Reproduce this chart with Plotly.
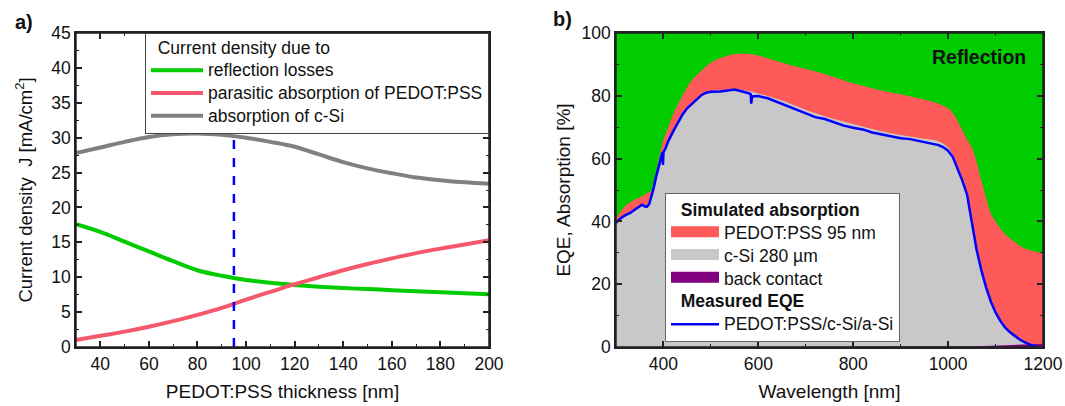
import plotly.graph_objects as go

# ---------------- Panel a) data ----------------
thickness_nm = [30, 40, 50, 60, 70, 80, 90, 100, 110, 120, 130, 140, 150, 160, 170, 180, 190, 200]
j_reflection = [17.6, 16.5, 15.1, 13.7, 12.3, 11.0, 10.2, 9.6, 9.2, 8.9, 8.65, 8.45, 8.3, 8.15, 8.0, 7.85, 7.7, 7.55]
j_parasitic = [1.0, 1.6, 2.2, 2.9, 3.7, 4.6, 5.6, 6.8, 7.9, 9.0, 10.0, 11.0, 11.9, 12.7, 13.45, 14.1, 14.7, 15.3]
j_csi = [27.8, 28.6, 29.4, 30.1, 30.5, 30.6, 30.4, 30.0, 29.4, 28.7, 27.6, 26.5, 25.6, 24.9, 24.3, 23.9, 23.6, 23.4]
selected_thickness = 95

# ---------------- Panel b) data ----------------
wl_sim = [300, 320, 340, 355, 365, 375, 385, 395, 400, 410, 420, 440, 460, 480, 500, 520, 540, 560,
          580, 600, 650, 700, 750, 800, 850, 900, 950, 980, 1000, 1010, 1020, 1030, 1040, 1050,
          1060, 1070, 1080, 1090, 1100, 1120, 1140, 1160, 1180, 1200]
# upper edge of red area: total absorption (c-Si + PEDOT:PSS + back contact) [%]
abs_total = [41, 45, 47, 48, 49, 50, 56, 63, 66, 70, 74, 80, 85, 88, 90.5, 92, 93, 93.5,
             93.3, 92.8, 90.5, 88.5, 86.5, 84, 82, 80.5, 78.8, 77.5, 76, 74.5, 72, 69, 66, 63.5,
             59, 53, 47.5, 42.5, 40, 36, 33.5, 31.5, 30.5, 30]
# absorption in c-Si [%]
abs_csi = [39.5, 42, 44, 45.5, 45, 47.5, 54, 60, 62.5, 66, 69, 74, 77.5, 80, 81.3, 81.8, 82, 82,
           81.5, 80.7, 78.5, 75.5, 73, 71, 69, 67.5, 66.3, 65.5, 63.5, 61, 57, 53, 48.5, 41,
           32, 25, 19.5, 14.5, 11, 6, 3, 1.3, 0.3, 0]
# absorption in back contact [%]
abs_back = [0, 0, 0, 0, 0, 0, 0, 0, 0, 0, 0, 0, 0, 0, 0, 0, 0, 0,
            0, 0, 0, 0, 0, 0, 0, 0, 0, 0, 0, 0.05, 0.1, 0.12, 0.15, 0.2,
            0.25, 0.3, 0.35, 0.38, 0.4, 0.5, 0.6, 0.7, 0.85, 1.0]

wl_eqe = [300, 310, 320, 330, 340, 350, 355, 360, 365, 370, 375, 380, 385, 390, 395, 398, 399, 400,
          405, 410, 420, 430, 440, 450, 460, 470, 480, 490, 500, 520, 540, 550, 560, 570, 580, 584,
          585, 587, 600, 620, 640, 660, 680, 700, 720, 740, 760, 780, 800, 820, 840, 860, 880, 900,
          920, 940, 960, 970, 980, 990, 1000, 1010, 1020, 1030, 1040, 1050, 1060, 1070, 1080, 1090,
          1100, 1110, 1120, 1130, 1140, 1150, 1160, 1170, 1180, 1190]
eqe = [39.5, 41, 42, 42.7, 43.8, 45, 45.3, 44.8, 44.6, 45.5, 48, 51, 54.5, 57.5, 60.5, 62, 58, 62,
       63.5, 65.5, 68.5, 71.5, 74, 76, 77.5, 79, 80.2, 81, 81.3, 81.4, 81.8, 82, 81.6, 81.3, 80.8, 80.5,
       77.5, 79.8, 79.9, 79.2, 78, 76.8, 75.5, 74.3, 73.2, 72.6, 71.6, 70.5, 69.8, 69.3, 68.3, 67.7, 67.0, 66.5,
       66.2, 65.6, 65.1, 64.8, 64.3, 63.6, 62.5, 60.5, 57, 53, 48.5, 40, 31, 24.5, 19, 14.5,
       11, 8.3, 6.2, 4.8, 3.5, 2.5, 1.6, 0.9, 0.3, 0]

FONT = "Liberation Sans, Arial, sans-serif"
AX = "#222222"
TXT = "#111111"
GREEN = "#00CC00"
RED = "#FF5A5A"
GRAY = "#C8C8C8"
PURPLE = "#800080"
NB = "\u00a0"

W, H = 1065, 406
ML, MR, MT, MB = 76, 22, 33, 59
PW, PH = W - ML - MR, H - MT - MB


def px_x(p):
    return (p - ML) / PW


def px_y(p):
    return (H - MB - p) / PH


def big(t, size=17.5):
    return f"<span style='font-size:{size}px'>{t}</span>"


fig = go.Figure()

# ---- panel a traces ----
fig.add_trace(go.Scatter(x=thickness_nm, y=j_reflection, mode="lines", name=big("reflection losses"),
                         line=dict(color=GREEN, width=4, shape="spline"), legend="legend", xaxis="x", yaxis="y"))
fig.add_trace(go.Scatter(x=thickness_nm, y=j_parasitic, mode="lines", name=big("parasitic absorption of PEDOT:PSS"),
                         line=dict(color="#F5576C", width=4, shape="spline"), legend="legend", xaxis="x", yaxis="y"))
fig.add_trace(go.Scatter(x=thickness_nm, y=j_csi, mode="lines", name=big("absorption of c-Si"),
                         line=dict(color="#808080", width=4, shape="spline"), legend="legend", xaxis="x", yaxis="y"))
fig.add_trace(go.Scatter(x=[selected_thickness, selected_thickness], y=[0, 45], mode="lines", showlegend=False,
                         line=dict(color="#0000FF", width=2.5, dash="dash"), xaxis="x", yaxis="y"))

# ---- panel b traces (areas) ----
fig.add_trace(go.Scatter(x=wl_sim, y=abs_total, mode="lines", fill="tozeroy", showlegend=False,
                         line=dict(color=RED, width=0, shape="spline"), fillcolor=RED,
                         xaxis="x2", yaxis="y2"))
fig.add_trace(go.Scatter(x=wl_sim, y=abs_csi, mode="lines", fill="tozeroy", showlegend=False,
                         line=dict(color=GRAY, width=0, shape="spline"), fillcolor=GRAY,
                         xaxis="x2", yaxis="y2"))
fig.add_trace(go.Scatter(x=wl_sim, y=abs_back, mode="lines", fill="tozeroy", showlegend=False,
                         line=dict(color=PURPLE, width=0), fillcolor=PURPLE,
                         xaxis="x2", yaxis="y2"))

# legend swatches for the areas (legend entries only)
for i, (nm, col) in enumerate((("PEDOT:PSS 95 nm", RED), ("c-Si 280 µm", GRAY), ("back contact", PURPLE))):
    kw = dict(legendgrouptitle=dict(text=big(NB * 2 + "<b>Simulated absorption</b>"))) if i == 0 else {}
    fig.add_trace(go.Scatter(x=[None], y=[None], mode="lines", fill="tozeroy", name=big(nm),
                             line=dict(color=col, width=12), fillcolor=col,
                             legend="legend2", legendgroup="sim", xaxis="x2", yaxis="y2", **kw))

fig.add_trace(go.Scatter(x=wl_eqe, y=eqe, mode="lines", name=big("PEDOT:PSS/c-Si/a-Si"),
                         line=dict(color="#0000FF", width=2.5),
                         legend="legend2", legendgroup="meas",
                         legendgrouptitle=dict(text=big(NB * 2 + "<b>Measured EQE</b>")),
                         xaxis="x2", yaxis="y2"))

X1 = [0, px_x(489)]
X2 = [px_x(616), 1]
YD = [0, 1]


def axis(**kw):
    d = dict(showline=True, linecolor=AX, linewidth=1.5, mirror="allticks", ticks="inside",
             ticklen=6, tickwidth=1.5, tickcolor=AX, showgrid=False, zeroline=False,
             automargin=False, layer="above traces",
             tickfont=dict(family=FONT, size=17.5, color=TXT))
    d.update(kw)
    return d


LEGFS = 15.2
fig.update_layout(
    width=W, height=H,
    margin=dict(l=ML, r=MR, t=MT, b=MB, autoexpand=False),
    paper_bgcolor="white", plot_bgcolor="white",
    font=dict(family=FONT, size=17.5, color=TXT),
    xaxis=axis(domain=X1, range=[30, 200], dtick=20, tick0=0, anchor="y",
               title=dict(text="PEDOT:PSS thickness [nm]", standoff=12, font=dict(family=FONT, size=19, color=TXT)),
               minor=dict(ticks="inside", dtick=10, ticklen=3, tickcolor=AX, tickwidth=1.2)),
    yaxis=axis(domain=YD, range=[0, 45], dtick=5, anchor="x",
               title=dict(text="Current density" + NB + " J [mA/cm<sup>2</sup>]", standoff=14,
                          font=dict(family=FONT, size=18.5, color=TXT)),
               minor=dict(ticks="inside", dtick=2.5, ticklen=3, tickcolor=AX, tickwidth=1.2)),
    xaxis2=axis(domain=X2, range=[300, 1200], dtick=200, tick0=0, anchor="y2",
                title=dict(text="Wavelength [nm]", standoff=12, font=dict(family=FONT, size=19, color=TXT)),
                minor=dict(ticks="inside", dtick=100, ticklen=3, tickcolor=AX, tickwidth=1.2)),
    yaxis2=axis(domain=YD, range=[0, 100], dtick=20, anchor="x2",
                title=dict(text="EQE, Absorption [%]", standoff=6, font=dict(family=FONT, size=19, color=TXT)),
                minor=dict(ticks="inside", dtick=10, ticklen=3, tickcolor=AX, tickwidth=1.2)),
    legend=dict(x=X1[1], xanchor="right", y=1, yanchor="top",
                bgcolor="white", bordercolor="#444444", borderwidth=1,
                title=dict(text=big(NB * 2 + "Current density due to"), font=dict(family=FONT, size=LEGFS, color=TXT)),
                font=dict(family=FONT, size=LEGFS, color=TXT), itemwidth=52, tracegroupgap=0),
    legend2=dict(x=px_x(665), xanchor="left", y=px_y(193), yanchor="top",
                 bgcolor="white", bordercolor="#666666", borderwidth=1,
                 font=dict(family=FONT, size=LEGFS, color=TXT), itemwidth=48, tracegroupgap=0,
                 traceorder="grouped",
                 grouptitlefont=dict(family=FONT, size=LEGFS, color=TXT)),
    showlegend=True,
)

fig.add_shape(type="rect", xref="x2 domain", yref="y2 domain", x0=0, x1=1, y0=0, y1=1,
              fillcolor=GREEN, line_width=0, layer="below")
# plot frames
for xr, yr in (("x domain", "y domain"), ("x2 domain", "y2 domain")):
    fig.add_shape(type="rect", xref=xr, yref=yr, x0=0, x1=1, y0=0, y1=1,
                  line=dict(color=AX, width=1.5), fillcolor="rgba(0,0,0,0)", layer="above")

fig.add_annotation(x=1168, y=92.4, xref="x2", yref="y2", text="<b>Reflection</b>", showarrow=False,
                   xanchor="right", yanchor="middle", font=dict(family=FONT, size=19.5, color=TXT))
fig.add_annotation(x=px_x(13), y=px_y(22), xref="paper", yref="paper", text="<b>a)</b>", showarrow=False,
                   xanchor="left", yanchor="middle", font=dict(family=FONT, size=20, color=TXT))
fig.add_annotation(x=px_x(574), y=px_y(19), xref="paper", yref="paper", text="<b>b)</b>", showarrow=False,
                   xanchor="right", yanchor="middle", font=dict(family=FONT, size=20, color=TXT))

fig.write_html("out.html", config={"displayModeBar": False},
               post_script="document.body.style.margin='0';document.body.style.padding='0';")
